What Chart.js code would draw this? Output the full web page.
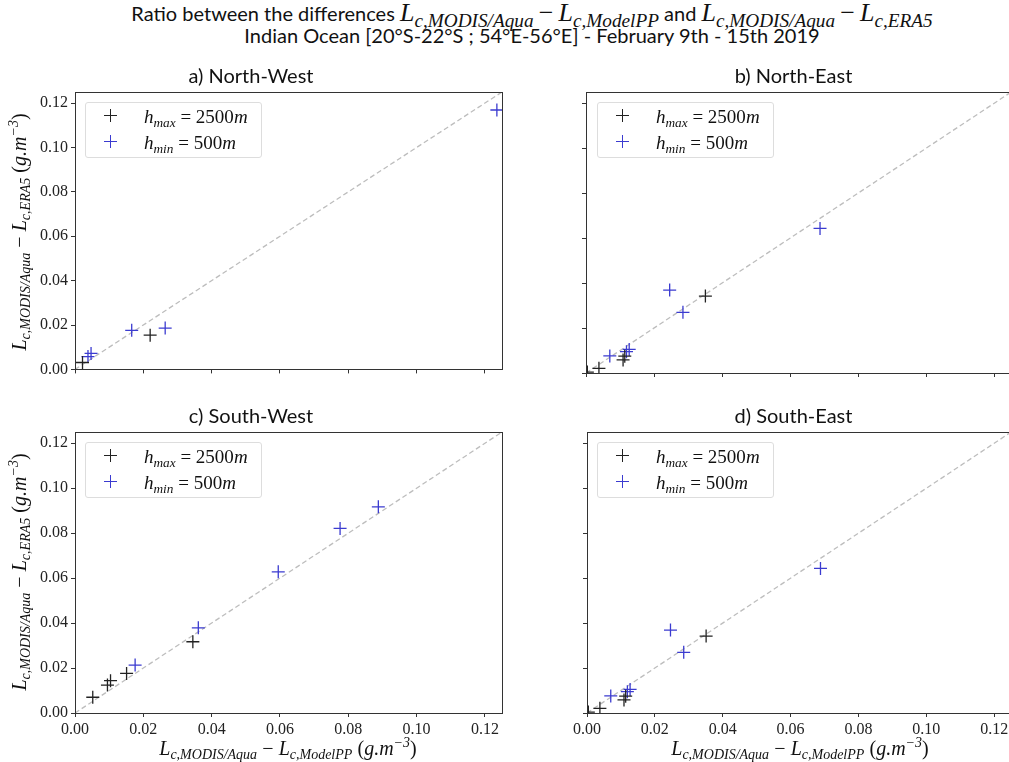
<!DOCTYPE html>
<html>
<head>
<meta charset="utf-8">
<script src="https://cdn.jsdelivr.net/npm/chart.js@4.4.1/dist/chart.umd.min.js"></script>
<style>
  body { margin: 0; background: #fff; }
  #fig { position: relative; width: 1009px; height: 762px; overflow: hidden; font-family: Lato, sans-serif; color: #111; }
  canvas { position: absolute; }
  .m { font-family: 'Liberation Serif', serif; font-style: italic; }
  .m sub, .m sup { font-size: .7em; line-height: 0; position: relative; }
  .m sub { vertical-align: baseline; top: .3em; }
  .m sup { vertical-align: baseline; top: -.55em; }
  .op { font-family: 'Liberation Serif', serif; font-style: normal; }
  #title { position: absolute; left: 0; top: 2px; width: 1064px; text-align: center; font-size: 20px; line-height: 22px; }
  #title .m, #title .op { font-size: 1.3em; }
  #title .m sub { font-size: .74em; }
  .xlab { position: absolute; top: 735px; transform: translateX(-50%); white-space: nowrap; font-size: 20px; }
  .ylab { position: absolute; left: 18px; transform: translate(-50%, -50%) rotate(-90deg); white-space: nowrap; font-size: 20px; }
  .legend { position: absolute; width: 177px; height: 56px; box-sizing: border-box; border: 1px solid #ddd; border-radius: 3px; background: rgba(255,255,255,.85); }
  .legend .row { position: absolute; left: 0; height: 22px; line-height: 22px; font-size: 19px; white-space: nowrap; }
  .legend .mk { position: absolute; left: 18px; top: 4px; width: 13px; height: 13px; }
  .legend .tx { position: absolute; left: 58px; top: 0; }
</style>
</head>
<body>
<div id="fig">
  <div id="title">
    Ratio between the differences <span class="m">L<sub>c,MODIS/Aqua</sub></span> <span class="op">&minus;</span> <span class="m">L<sub>c,ModelPP</sub></span>
    and <span class="m">L<sub>c,MODIS/Aqua</sub></span> <span class="op">&minus;</span> <span class="m">L<sub>c,ERA5</sub></span><br>
    Indian Ocean [20°S-22°S ; 54°E-56°E] - February 9th - 15th 2019
  </div>
  <canvas id="nw" width="512" height="322" style="left:0;top:60px"></canvas>
  <canvas id="ne" width="449" height="322" style="left:570px;top:60px"></canvas>
  <canvas id="sw" width="512" height="340" style="left:0;top:400px"></canvas>
  <canvas id="se" width="449" height="340" style="left:570px;top:400px"></canvas>
</div>

<script>
// Axis setup
const AX_MIN = 0;
const AX_MAX = 0.125;
const TICK_STEP = 0.02;

const seriesLabels = [['h', 'max', ' = 2500m'], ['h', 'min', ' = 500m']];
const seriesColors = ['#222222', '#3b3bd0'];

// a) North-West
const nwMaxX = [0.0022, 0.0220];
const nwMaxY = [0.0031, 0.0154];
const nwMinX = [0.0038, 0.0047, 0.0166, 0.0264, 0.1235];
const nwMinY = [0.0058, 0.0072, 0.0176, 0.0186, 0.1169];

// b) North-East
const neMaxX = [0.0004, 0.0038, 0.0109, 0.0114, 0.0351];
const neMaxY = [0.0004, 0.0021, 0.0058, 0.0075, 0.0342];
const neMinX = [0.0070, 0.0119, 0.0127, 0.0246, 0.0285, 0.0688];
const neMinY = [0.0076, 0.0095, 0.0105, 0.0369, 0.0270, 0.0643];

// c) South-West
const swMaxX = [0.0052, 0.0095, 0.0104, 0.0151, 0.0345];
const swMaxY = [0.0070, 0.0124, 0.0144, 0.0176, 0.0317];
const swMinX = [0.0176, 0.0361, 0.0595, 0.0776, 0.0888];
const swMinY = [0.0213, 0.0379, 0.0628, 0.0821, 0.0917];

// d) South-East
const seMaxX = [0.0004, 0.0038, 0.0109, 0.0114, 0.0351];
const seMaxY = [0.0004, 0.0021, 0.0058, 0.0075, 0.0342];
const seMinX = [0.0070, 0.0119, 0.0127, 0.0246, 0.0285, 0.0688];
const seMinY = [0.0076, 0.0095, 0.0105, 0.0369, 0.0270, 0.0643];

function pts(xs, ys) {
  return xs.map((x, i) => ({ x: x, y: ys[i] }));
}

// box around the plot area (matplotlib spines)
const frame = {
  id: 'frame',
  afterDraw(chart) {
    const a = chart.chartArea, c = chart.ctx;
    c.save();
    c.strokeStyle = '#333';
    c.lineWidth = 1;
    c.strokeRect(Math.round(a.left) + 0.5, Math.round(a.top) + 0.5,
      Math.round(a.right - a.left), Math.round(a.bottom - a.top));
    c.restore();
  }
};

function axis(showLabels, size, horizontal) {
  return {
    type: 'linear',
    min: AX_MIN,
    max: AX_MAX,
    border: { display: false },
    grid: { drawOnChartArea: false, drawTicks: true, tickLength: 4, color: '#333' },
    ticks: {
      display: showLabels,
      stepSize: TICK_STEP,
      includeBounds: false,
      maxRotation: 0,
      autoSkip: false,
      padding: 3,
      color: '#222',
      font: { family: 'Liberation Serif', size: 16 },
      callback: v => v.toFixed(2)
    },
    afterFit(scale) {
      if (horizontal) scale.height = size; else scale.width = size;
    }
  };
}

function makePanel(id, title, maxX, maxY, minX, minY, cfg) {
  new Chart(document.getElementById(id), {
    type: 'scatter',
    data: {
      datasets: [
        {
          label: seriesLabels[0].join(''),
          data: pts(maxX, maxY),
          pointStyle: 'cross',
          pointRadius: 6.5,
          pointBorderWidth: 1.3,
          borderColor: seriesColors[0],
          backgroundColor: seriesColors[0]
        },
        {
          label: seriesLabels[1].join(''),
          data: pts(minX, minY),
          pointStyle: 'cross',
          pointRadius: 6.5,
          pointBorderWidth: 1.3,
          borderColor: seriesColors[1],
          backgroundColor: seriesColors[1]
        },
        {
          // 1:1 line
          type: 'line',
          label: '1:1',
          data: [{ x: AX_MIN, y: AX_MIN }, { x: AX_MAX, y: AX_MAX }],
          borderColor: '#bdbdbd',
          borderWidth: 1.3,
          borderDash: [5, 3],
          pointRadius: 0,
          fill: false
        }
      ]
    },
    options: {
      responsive: false,
      animation: false,
      layout: { padding: { left: 0, right: cfg.padR, top: 0, bottom: 0 } },
      plugins: {
        legend: { display: false },
        tooltip: { enabled: false },
        title: {
          display: true,
          text: title,
          color: '#111',
          font: { family: 'Lato', size: 20, weight: 'normal' },
          padding: { top: 5, bottom: 3 }
        }
      },
      scales: {
        x: axis(cfg.xLabels, cfg.xH, true),
        y: axis(cfg.yLabels, cfg.yW, false)
      }
    },
    plugins: [frame]
  });
}

makePanel('nw', 'a) North-West', nwMaxX, nwMaxY, nwMinX, nwMinY, { xLabels: false, yLabels: true, xH: 9, yW: 75, padR: 10 });
makePanel('ne', 'b) North-East', neMaxX, neMaxY, neMinX, neMinY, { xLabels: false, yLabels: false, xH: 9, yW: 16, padR: 2 });
makePanel('sw', 'c) South-West', swMaxX, swMaxY, swMinX, swMinY, { xLabels: true, yLabels: true, xH: 27, yW: 75, padR: 10 });
makePanel('se', 'd) South-East', seMaxX, seMaxY, seMinX, seMinY, { xLabels: true, yLabels: false, xH: 27, yW: 16, padR: 2 });

// legends and axis titles (math text)
function mathLabel(parts) {
  return '<span class="m">' + parts[0] + '<sub>' + parts[1] + '</sub></span><span class="m" style="font-style:normal">' +
    parts[2].replace('=', '= ').replace(/(\d+)m/, '$1<i>m</i>') + '</span>';
}

const fig = document.getElementById('fig');
[[85, 102], [597, 102], [85, 442], [597, 442]].forEach(p => {
  const box = document.createElement('div');
  box.className = 'legend';
  box.style.left = p[0] + 'px';
  box.style.top = p[1] + 'px';
  box.innerHTML = seriesLabels.map((lab, i) => {
    const c = seriesColors[i];
    const mk = `background:linear-gradient(${c},${c}) center/13px 1.3px no-repeat,linear-gradient(${c},${c}) center/1.3px 13px no-repeat`;
    return `<div class="row" style="top:${2 + i * 26}px"><span class="mk" style="${mk}"></span><span class="tx">${mathLabel(lab)}</span></div>`;
  }).join('');
  fig.appendChild(box);
});

const xTitle = '<span class="m">L<sub>c,MODIS/Aqua</sub></span> <span class="op">&minus;</span> <span class="m">L<sub>c,ModelPP</sub></span> <span class="op">(</span><span class="m">g.m<sup>&minus;3</sup></span><span class="op">)</span>';
const yTitle = '<span class="m">L<sub>c,MODIS/Aqua</sub></span> <span class="op">&minus;</span> <span class="m">L<sub>c,ERA5</sub></span> <span class="op">(</span><span class="m">g.m<sup>&minus;3</sup></span><span class="op">)</span>';

[288, 800].forEach(cx => {
  const d = document.createElement('div');
  d.className = 'xlab';
  d.style.left = cx + 'px';
  d.innerHTML = xTitle;
  fig.appendChild(d);
});
[232, 572].forEach(cy => {
  const d = document.createElement('div');
  d.className = 'ylab';
  d.style.top = cy + 'px';
  d.innerHTML = yTitle;
  fig.appendChild(d);
});
</script>
</body>
</html>
